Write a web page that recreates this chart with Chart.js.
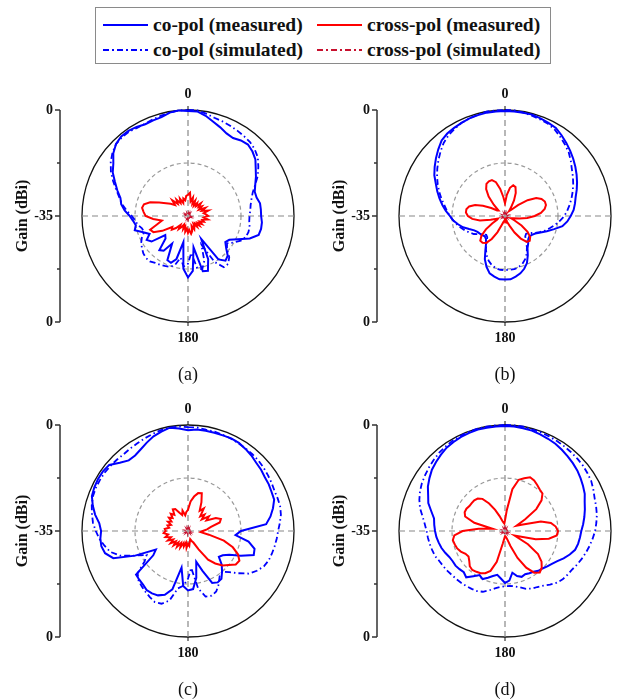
<!DOCTYPE html>
<html><head><meta charset="utf-8">
<script src="https://cdn.jsdelivr.net/npm/chart.js@4"></script>
<style>
body{margin:0;background:#fff;width:618px;height:700px;position:relative;overflow:hidden;font-family:'Liberation Serif','Times New Roman',serif;}
.cell{position:absolute;width:300px;height:315px;}
#legend{position:absolute;left:95px;top:7px;width:456px;height:57px;border:1px solid #8a8a8a;box-sizing:border-box;font-weight:bold;font-size:19.5px;color:#111;}
.item{position:absolute;display:flex;align-items:center;white-space:nowrap;height:22px;}
.item svg{margin-right:5px;}
</style></head>
<body>
<div id="legend">
  <div class="item" style="left:7px;top:6px"><svg width="45" height="6"><line x1="0" y1="3" x2="45" y2="3" stroke="#0000ff" stroke-width="2"/></svg>co-pol (measured)</div>
  <div class="item" style="left:221px;top:6px"><svg width="45" height="6"><line x1="0" y1="3" x2="45" y2="3" stroke="#ff0000" stroke-width="2"/></svg>cross-pol (measured)</div>
  <div class="item" style="left:7px;top:31px"><svg width="45" height="6"><line x1="0" y1="3" x2="45" y2="3" stroke="#0000ff" stroke-width="2" stroke-dasharray="6 3 2 3"/></svg>co-pol (simulated)</div>
  <div class="item" style="left:221px;top:31px"><svg width="45" height="6"><line x1="0" y1="3" x2="45" y2="3" stroke="#c8102e" stroke-width="2" stroke-dasharray="6 3 2 3"/></svg>cross-pol (simulated)</div>
</div>
<div class="cell" style="left:0;top:70px"><canvas id="ca" width="300" height="315"></canvas></div>
<div class="cell" style="left:317px;top:70px"><canvas id="cb" width="300" height="315"></canvas></div>
<div class="cell" style="left:0;top:385px"><canvas id="cc" width="300" height="315"></canvas></div>
<div class="cell" style="left:317px;top:385px"><canvas id="cd" width="300" height="315"></canvas></div>
<script>
// angles (deg, clockwise from top), 5 degree steps
const angles = [];
for (let a = 0; a < 360; a += 5) angles.push(String(a));
const axisTickLabels = ['0', '-35', '0'];
const directionLabels = ['0', '180'];
const captions = ['(a)', '(b)', '(c)', '(d)'];
const legendNames = ['co-pol (measured)', 'co-pol (simulated)', 'cross-pol (measured)', 'cross-pol (simulated)'];

const aCoMeas = [0.99,0.99,0.96,0.92,0.89,0.86,0.85,0.87,0.88,0.86,0.83,0.78,
0.74,0.70,0.67,0.67,0.69,0.69,0.69,0.70,0.70,0.69,0.62,0.52,
0.45,0.43,0.47,0.53,0.55,0.50,0.25,0.45,0.55,0.54,0.30,0.52,
0.58,0.50,0.25,0.42,0.47,0.46,0.30,0.40,0.42,0.30,0.28,0.42,
0.45,0.40,0.45,0.52,0.50,0.52,0.55,0.60,0.64,0.66,0.71,0.76,
0.82,0.86,0.92,0.96,0.98,0.98,0.97,0.955,0.96,0.965,0.99,1.0];
const aCoSim = [1.0,1.0,0.98,0.96,0.95,0.94,0.93,0.92,0.91,0.89,0.86,0.81,
0.76,0.70,0.65,0.62,0.60,0.59,0.58,0.58,0.59,0.59,0.58,0.55,
0.50,0.45,0.48,0.55,0.59,0.59,0.50,0.30,0.45,0.52,0.50,0.35,
0.45,0.48,0.40,0.48,0.51,0.52,0.53,0.54,0.56,0.56,0.55,0.53,
0.51,0.48,0.44,0.45,0.48,0.50,0.53,0.58,0.63,0.67,0.72,0.78,
0.84,0.89,0.93,0.96,0.97,0.97,0.96,0.96,0.97,0.98,0.99,1.0];
const aXMeas = [0.20,0.22,0.14,0.18,0.12,0.16,0.11,0.15,0.12,0.17,0.13,0.16,
0.12,0.18,0.14,0.20,0.15,0.17,0.19,0.15,0.19,0.14,0.16,0.12,
0.15,0.11,0.14,0.10,0.13,0.09,0.12,0.14,0.10,0.15,0.17,0.13,
0.16,0.12,0.15,0.10,0.13,0.09,0.12,0.15,0.11,0.16,0.20,0.18,
0.28,0.36,0.38,0.30,0.25,0.33,0.40,0.42,0.44,0.43,0.38,0.30,
0.24,0.20,0.16,0.21,0.15,0.19,0.14,0.18,0.13,0.17,0.15,0.19];
const aXSim = [0.02,0.02,0.03,0.02,0.02,0.03,0.02,0.02,0.03,0.02,0.02,0.03,
0.02,0.02,0.03,0.02,0.02,0.03,0.02,0.02,0.03,0.02,0.02,0.03,
0.02,0.02,0.03,0.02,0.02,0.03,0.02,0.02,0.03,0.02,0.02,0.03,
0.02,0.02,0.03,0.02,0.02,0.03,0.02,0.02,0.03,0.02,0.02,0.03,
0.03,0.03,0.03,0.02,0.02,0.03,0.03,0.03,0.03,0.02,0.02,0.03,
0.02,0.02,0.03,0.02,0.02,0.03,0.02,0.02,0.03,0.02,0.02,0.03];

const bCoMeas = [0.99,0.99,0.99,0.99,0.98,0.97,0.96,0.93,0.90,0.87,0.84,0.81,
0.78,0.75,0.72,0.69,0.67,0.65,0.62,0.59,0.55,0.48,0.42,0.37,
0.33,0.31,0.30,0.31,0.34,0.37,0.43,0.49,0.53,0.56,0.58,0.60,
0.60,0.60,0.58,0.56,0.51,0.45,0.37,0.31,0.28,0.27,0.28,0.29,
0.30,0.32,0.36,0.41,0.45,0.49,0.52,0.56,0.60,0.64,0.68,0.72,
0.77,0.81,0.85,0.89,0.93,0.95,0.96,0.97,0.98,0.985,0.99,0.99];
const bCoSim = [1.0,1.0,0.99,0.98,0.97,0.96,0.94,0.91,0.88,0.85,0.81,0.77,
0.74,0.71,0.68,0.65,0.62,0.59,0.56,0.52,0.48,0.44,0.40,0.36,
0.32,0.28,0.26,0.27,0.31,0.36,0.41,0.45,0.48,0.50,0.51,0.51,
0.51,0.51,0.50,0.48,0.45,0.41,0.36,0.30,0.26,0.25,0.27,0.30,
0.34,0.37,0.40,0.43,0.46,0.49,0.52,0.55,0.58,0.62,0.66,0.70,
0.74,0.78,0.82,0.86,0.90,0.93,0.95,0.97,0.98,0.99,1.0,1.0];
const bXMeas = [0.12,0.20,0.27,0.30,0.29,0.24,0.17,0.10,0.06,0.08,0.16,0.26,
0.34,0.38,0.40,0.40,0.38,0.34,0.28,0.21,0.14,0.08,0.06,0.10,
0.18,0.26,0.31,0.33,0.32,0.26,0.18,0.10,0.06,0.04,0.05,0.04,
0.05,0.04,0.05,0.06,0.09,0.17,0.25,0.31,0.33,0.33,0.29,0.22,
0.14,0.08,0.07,0.14,0.24,0.31,0.35,0.37,0.37,0.35,0.30,0.23,
0.15,0.09,0.08,0.15,0.24,0.31,0.35,0.36,0.36,0.33,0.26,0.18];
const bXSim = [0.02,0.02,0.02,0.03,0.02,0.02,0.02,0.03,0.02,0.02,0.02,0.03,
0.02,0.02,0.02,0.03,0.02,0.02,0.02,0.03,0.02,0.02,0.02,0.03,
0.02,0.02,0.02,0.03,0.02,0.02,0.02,0.03,0.02,0.02,0.02,0.03,
0.02,0.02,0.02,0.03,0.02,0.02,0.02,0.03,0.02,0.02,0.02,0.03,
0.02,0.02,0.02,0.03,0.02,0.02,0.02,0.03,0.02,0.02,0.02,0.03,
0.02,0.02,0.02,0.03,0.02,0.02,0.02,0.03,0.02,0.02,0.02,0.03];

const cCoMeas = [0.95,0.96,0.96,0.96,0.96,0.965,0.96,0.945,0.93,0.91,0.90,0.885,
0.88,0.87,0.865,0.83,0.79,0.74,0.50,0.45,0.58,0.65,0.66,0.55,
0.45,0.40,0.38,0.45,0.50,0.55,0.56,0.54,0.40,0.30,0.45,0.55,
0.56,0.52,0.35,0.57,0.64,0.67,0.68,0.68,0.66,0.65,0.64,0.40,
0.35,0.55,0.75,0.81,0.83,0.83,0.82,0.84,0.89,0.93,0.965,0.975,
0.98,0.98,0.97,0.91,0.87,0.87,0.89,0.92,0.95,0.97,0.99,0.97];
const cCoSim = [0.98,0.98,0.97,0.97,0.965,0.96,0.955,0.95,0.945,0.94,0.93,0.92,
0.91,0.90,0.90,0.90,0.89,0.87,0.85,0.84,0.83,0.82,0.81,0.79,
0.75,0.70,0.62,0.55,0.50,0.52,0.58,0.63,0.65,0.64,0.55,0.35,
0.45,0.52,0.55,0.68,0.73,0.74,0.72,0.70,0.68,0.66,0.62,0.50,
0.45,0.55,0.68,0.76,0.80,0.84,0.87,0.90,0.92,0.94,0.955,0.96,
0.96,0.96,0.955,0.95,0.945,0.95,0.955,0.965,0.975,0.985,0.99,0.99];
const cXMeas = [0.20,0.28,0.33,0.37,0.38,0.30,0.22,0.26,0.18,0.22,0.17,0.24,
0.20,0.29,0.33,0.31,0.22,0.18,0.14,0.12,0.20,0.35,0.45,0.52,
0.56,0.55,0.50,0.46,0.40,0.33,0.20,0.12,0.10,0.08,0.10,0.14,
0.12,0.16,0.11,0.15,0.12,0.17,0.13,0.18,0.14,0.19,0.15,0.20,
0.16,0.21,0.17,0.22,0.19,0.23,0.21,0.22,0.18,0.20,0.17,0.21,
0.18,0.22,0.19,0.23,0.20,0.25,0.24,0.19,0.16,0.20,0.15,0.18];
const cXSim = [0.02,0.03,0.02,0.02,0.02,0.03,0.02,0.02,0.02,0.03,0.02,0.02,
0.02,0.03,0.02,0.02,0.02,0.03,0.02,0.02,0.02,0.03,0.02,0.02,
0.02,0.03,0.02,0.02,0.02,0.03,0.02,0.02,0.02,0.03,0.02,0.02,
0.02,0.03,0.02,0.02,0.02,0.03,0.02,0.02,0.02,0.03,0.02,0.02,
0.02,0.03,0.02,0.02,0.02,0.03,0.02,0.02,0.02,0.03,0.02,0.02,
0.02,0.03,0.02,0.02,0.02,0.03,0.02,0.02,0.02,0.03,0.02,0.02];

const dCoMeas = [0.99,0.99,0.985,0.98,0.97,0.96,0.95,0.935,0.92,0.905,0.89,0.87,
0.85,0.83,0.80,0.78,0.76,0.74,0.72,0.71,0.70,0.685,0.65,0.61,
0.57,0.54,0.52,0.50,0.49,0.47,0.46,0.45,0.46,0.44,0.40,0.47,
0.49,0.45,0.42,0.44,0.47,0.50,0.48,0.52,0.57,0.55,0.56,0.57,
0.57,0.58,0.60,0.62,0.635,0.65,0.66,0.67,0.68,0.72,0.77,0.80,
0.84,0.87,0.90,0.92,0.94,0.96,0.97,0.98,0.985,0.99,0.99,0.99];
const dCoSim = [1.0,1.0,1.0,0.99,0.99,0.985,0.98,0.975,0.97,0.965,0.96,0.95,
0.94,0.92,0.90,0.89,0.88,0.865,0.85,0.83,0.81,0.79,0.77,0.75,
0.73,0.72,0.71,0.69,0.66,0.63,0.61,0.60,0.58,0.55,0.53,0.52,
0.52,0.53,0.55,0.58,0.61,0.625,0.63,0.635,0.64,0.645,0.65,0.66,
0.67,0.68,0.70,0.71,0.72,0.73,0.74,0.76,0.79,0.83,0.86,0.885,
0.905,0.92,0.935,0.95,0.965,0.975,0.985,0.99,0.995,1.0,1.0,1.0];
const dXMeas = [0.10,0.20,0.40,0.50,0.53,0.56,0.55,0.53,0.51,0.50,0.45,0.36,
0.22,0.12,0.18,0.35,0.44,0.48,0.50,0.49,0.42,0.30,0.15,0.10,
0.25,0.38,0.45,0.49,0.51,0.48,0.40,0.28,0.15,0.08,0.06,0.05,
0.05,0.07,0.12,0.30,0.40,0.44,0.46,0.47,0.48,0.47,0.44,0.42,
0.43,0.46,0.48,0.49,0.50,0.48,0.40,0.25,0.12,0.30,0.40,0.42,
0.42,0.41,0.41,0.41,0.40,0.37,0.30,0.22,0.15,0.10,0.08,0.07];
const dXSim = [0.02,0.02,0.03,0.02,0.02,0.02,0.03,0.02,0.02,0.02,0.03,0.02,
0.02,0.02,0.03,0.02,0.02,0.02,0.03,0.02,0.02,0.02,0.03,0.02,
0.02,0.02,0.03,0.02,0.02,0.02,0.03,0.02,0.02,0.02,0.03,0.02,
0.02,0.02,0.03,0.02,0.02,0.02,0.03,0.02,0.02,0.02,0.03,0.02,
0.02,0.02,0.03,0.02,0.02,0.02,0.03,0.02,0.02,0.02,0.03,0.02,
0.02,0.02,0.03,0.02,0.02,0.02,0.03,0.02,0.02,0.02,0.03,0.02];

const R_MIN = -35, R_MAX = 0;
const toDb = arr => arr.map(f => R_MIN + f * (R_MAX - R_MIN));

const BLUE = '#0000ff', RED = '#ff0000', RED_SIM = '#c8102e';
const DASHDOT = [6, 3, 1.5, 3];

function makeDecor(caption){
  return {
    id: 'decor',
    afterDraw(chart){
      const s = chart.scales.r, ctx = chart.ctx;
      const cx = s.xCenter, cy = s.yCenter;
      const dTop = s.getDistanceFromCenterForValue(R_MAX);
      const dMid = s.getDistanceFromCenterForValue(-17.5);
      const ax = cx - 128;
      ctx.save();
      ctx.setLineDash([]);
      ctx.strokeStyle = '#333'; ctx.lineWidth = 1.5;
      ctx.beginPath();
      ctx.moveTo(ax, cy - dTop); ctx.lineTo(ax, cy + dTop);
      [cy - dTop, cy, cy + dTop].forEach(y => { ctx.moveTo(ax, y); ctx.lineTo(ax - 5, y); });
      [cy - dMid, cy + dMid].forEach(y => { ctx.moveTo(ax, y); ctx.lineTo(ax - 3, y); });
      ctx.stroke();
      ctx.strokeStyle = '#111'; ctx.lineWidth = 1;
      ctx.beginPath();
      [0, 36].forEach(i => {
        const p1 = s.getPointPosition(i, dTop), p2 = s.getPointPosition(i, dTop + 4);
        ctx.moveTo(p1.x, p1.y); ctx.lineTo(p2.x, p2.y);
      });
      ctx.stroke();
      ctx.fillStyle = '#111';
      ctx.font = 'bold 14px "Liberation Serif"';
      ctx.textAlign = 'right'; ctx.textBaseline = 'middle';
      ctx.fillText(axisTickLabels[0], ax - 7, cy - dTop);
      ctx.fillText(axisTickLabels[1], ax - 7, cy);
      ctx.fillText(axisTickLabels[2], ax - 7, cy + dTop);
      ctx.textAlign = 'center';
      const p0 = s.getPointPosition(0, dTop + 16);
      const p180 = s.getPointPosition(36, dTop + 16);
      ctx.fillText(directionLabels[0], p0.x, p0.y);
      ctx.fillText(directionLabels[1], p180.x, p180.y);
      ctx.save();
      ctx.translate(cx - 165, cy);
      ctx.rotate(-Math.PI / 2);
      ctx.font = 'bold 16px "Liberation Serif"';
      ctx.fillText('Gain (dBi)', 0, 0);
      ctx.restore();
      ctx.font = '18px "Liberation Serif"';
      ctx.fillText(caption, cx, cy + 159);
      ctx.restore();
    }
  };
}

function line(data, color, dash, width, label){
  return {label, data: toDb(data), borderColor: color, borderWidth: width, borderDash: dash,
    fill: false, pointRadius: 0, pointHoverRadius: 0, tension: 0};
}

function makeChart(id, caption, coMeas, coSim, xMeas, xSim){
  new Chart(document.getElementById(id), {
    type: 'radar',
    data: {
      labels: angles,
      datasets: [
        line(xMeas, RED, [], 2, legendNames[2]),
        line(xSim, RED_SIM, DASHDOT, 1.2, legendNames[3]),
        line(coMeas, BLUE, [], 2, legendNames[0]),
        line(coSim, BLUE, DASHDOT, 1.8, legendNames[1])
      ]
    },
    options: {
      responsive: false, animation: false, devicePixelRatio: 1,
      layout: {padding: {left: 82, right: 6, top: 40, bottom: 63}},
      plugins: {legend: {display: false}, tooltip: {enabled: false}},
      scales: {
        r: {
          min: R_MIN, max: R_MAX, startAngle: 0,
          ticks: {display: false, stepSize: 17.5},
          pointLabels: {display: false},
          grid: {
            circular: true,
            color: c => (c.tick && c.tick.value === 0) ? '#111' : '#999',
            lineWidth: c => (c.tick && c.tick.value === 0) ? 1.3 : 1.2
          },
          border: {dash: c => (c.tick && c.tick.value === 0) ? [] : [4, 3]},
          angleLines: {
            display: true, color: '#888',
            lineWidth: c => (c.index % 18 === 0) ? 1.2 : 0,
            borderDash: [6, 4]
          }
        }
      }
    },
    plugins: [makeDecor(caption)]
  });
}

makeChart('ca', captions[0], aCoMeas, aCoSim, aXMeas, aXSim);
makeChart('cb', captions[1], bCoMeas, bCoSim, bXMeas, bXSim);
makeChart('cc', captions[2], cCoMeas, cCoSim, cXMeas, cXSim);
makeChart('cd', captions[3], dCoMeas, dCoSim, dXMeas, dXSim);
</script>
</body></html>
